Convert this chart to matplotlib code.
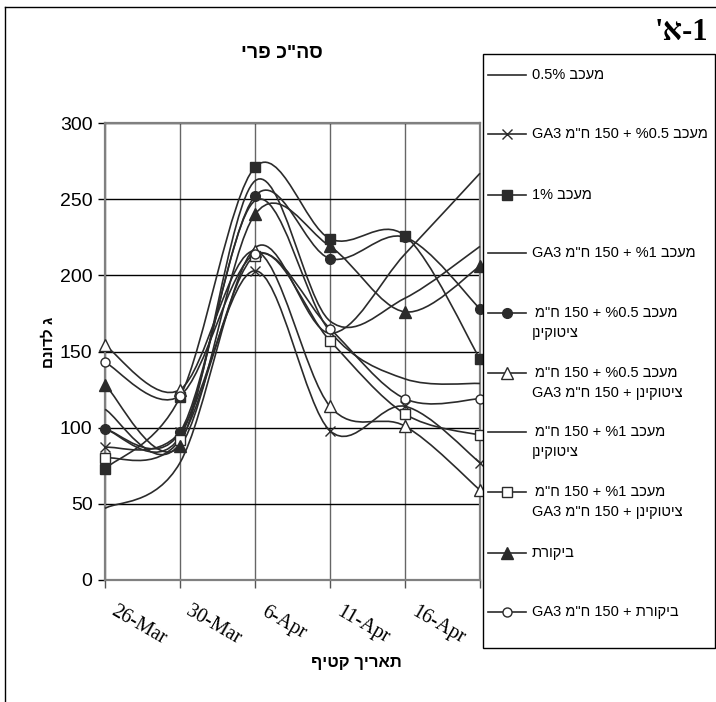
import numpy as np
import matplotlib
matplotlib.use('Agg')
import matplotlib.pyplot as plt
import matplotlib.transforms as mtransforms
from matplotlib.path import Path
from matplotlib.patches import PathPatch, Rectangle

# harvest dates (category axis)
dates = ['26-Mar', '30-Mar', '6-Apr', '11-Apr', '16-Apr', '21-Apr']

# yield per treatment
inh05 = [112, 90, 262, 170, 185, 219]
inh05_ga3 = [87, 97, 203, 98, 114, 77]
inh1 = [73, 120, 271, 224, 226, 145]
inh1_ga3 = [47, 77, 218, 162, 214, 267]
inh05_cyt = [99, 97, 252, 211, 225, 178]
inh05_cyt_ga3 = [154, 125, 216, 114, 101, 59]
inh1_cyt = [99, 94, 249, 163, 132, 129]
inh1_cyt_ga3 = [80, 92, 213, 157, 109, 95]
control = [128, 88, 240, 219, 176, 206]
control_ga3 = [143, 121, 214, 165, 119, 119]

yticks = [0, 50, 100, 150, 200, 250, 300]

# legend labels, logical order (second line for wrapped entries)
labels = [
    ('מעכב 0.5%', None),
    ('מעכב %0.5 + 150 ח"מ GA3', None),
    ('מעכב 1%', None),
    ('מעכב %1 + 150 ח"מ GA3', None),
    ('מעכב %0.5 + 150 ח"מ', 'ציטוקינן'),
    ('מעכב %0.5 + 150 ח"מ', 'ציטוקינן + 150 ח"מ GA3'),
    ('מעכב %1 + 150 ח"מ', 'ציטוקינן'),
    ('מעכב %1 + 150 ח"מ', 'ציטוקינן + 150 ח"מ GA3'),
    ('ביקורת', None),
    ('ביקורת + 150 ח"מ GA3', None),
]

series = [inh05, inh05_ga3, inh1, inh1_ga3, inh05_cyt,
          inh05_cyt_ga3, inh1_cyt, inh1_cyt_ga3, control, control_ga3]

dark = '#2b2b2b'
# (marker, size, facecolor)
styles = [
    (None, 0, None),
    ('x', 7, dark),
    ('s', 7, dark),
    (None, 0, None),
    ('o', 7, dark),
    ('^', 8, 'white'),
    (None, 0, None),
    ('s', 6.5, 'white'),
    ('^', 8, dark),
    ('o', 6.5, 'white'),
]


def is_heb(s):
    return any('\u0590' <= c <= '\u05ff' for c in s)


def rtl(s):
    # matplotlib has no bidi: lay the words out right-to-left by hand
    toks = s.split(' ')[::-1]
    return ' '.join(t[::-1] if is_heb(t) else t for t in toks)


def smooth(x, y):
    # Excel-like smoothed line: Catmull-Rom through the points as cubic Beziers
    pts = np.column_stack([x, y]).astype(float)
    n = len(pts)
    verts = [pts[0]]
    codes = [Path.MOVETO]
    for i in range(n - 1):
        p0 = pts[max(i - 1, 0)]
        p1 = pts[i]
        p2 = pts[i + 1]
        p3 = pts[min(i + 2, n - 1)]
        verts += [p1 + (p2 - p0) / 6, p2 - (p3 - p1) / 6, p2]
        codes += [Path.CURVE4] * 3
    return Path(verts, codes)


fig = plt.figure(figsize=(7.16, 7.02), dpi=100)
W, H = 716, 702
ax = fig.add_axes([105 / W, 1 - 580 / H, 375 / W, 457 / H])

x = np.arange(len(dates))
for vals, (mk, ms, fc) in zip(series, styles):
    ax.add_patch(PathPatch(smooth(x, vals), fill=False, ec=dark, lw=1.2,
                           clip_on=False, zorder=3))
    if mk:
        ax.plot(x, vals, ls='none', marker=mk, ms=ms, mfc=fc, mec=dark,
                mew=1.0, clip_on=False, zorder=4)

ax.set_xlim(0, len(dates) - 1)
ax.set_ylim(0, 300)
ax.set_yticks(yticks)
ax.set_xticks(x)
ax.set_xticklabels([])
# date labels: slanted, starting a little right of each tick
off = mtransforms.ScaledTranslation(9 / 72, -16 / 72, fig.dpi_scale_trans)
for i, d in enumerate(dates):
    ax.text(i, 0, d, transform=ax.get_xaxis_transform() + off,
            rotation=-30, rotation_mode='anchor', ha='left', va='top',
            family='Liberation Serif', fontsize=14.5, clip_on=False)
ax.tick_params(axis='y', direction='out', length=5, width=1, pad=4,
               labelsize=14)
ax.tick_params(axis='x', direction='out', length=6, width=1,
               colors='#555555')
for lab in ax.get_yticklabels():
    lab.set_family('Liberation Sans')
ax.grid(axis='y', color='black', lw=1)
ax.grid(axis='x', color='#666666', lw=1)
ax.set_axisbelow(True)
for sp in ax.spines.values():
    sp.set_color('#808080')
    sp.set_linewidth(1.6)

# overlay in pixel units for frame, titles and the legend
ov = fig.add_axes([0, 0, 1, 1], zorder=5)
ov.set_xlim(0, W)
ov.set_ylim(H, 0)
ov.axis('off')
ov.patch.set_alpha(0)

ov.plot([5, 5], [7, H], color='black', lw=1)
ov.plot([5, W], [7, 7], color='black', lw=1)

heb = ['Liberation Sans', 'DejaVu Sans']
ov.text(282, 54, rtl('סה"כ פרי'), ha='center', va='center', fontsize=14,
        fontweight='bold', family=heb)
ov.text(708, 32, "'" + 'א' + '-1', ha='right', va='center', fontsize=22,
        fontweight='bold', family=['Liberation Serif', 'DejaVu Sans'])
ov.text(356, 662, rtl('תאריך קטיף'), ha='center', va='center', fontsize=12,
        fontweight='bold', family=heb)
ov.text(48, 342, rtl('ג לדונם'), ha='center', va='center', rotation=90,
        fontsize=11, fontweight='bold', family=heb)

# legend box
ov.add_patch(Rectangle((483, 54), 232, 594, fc='white', ec='black', lw=1))
rows = [75, 134, 195, 253, 313, 373, 432, 492, 553, 612]
for (l1, l2), y, (mk, ms, fc) in zip(labels, rows, styles):
    ov.plot([488, 526], [y, y], color=dark, lw=1.2)
    if mk:
        ov.plot([507], [y], marker=mk, ms=ms, mfc=fc, mec=dark, mew=1.0,
                color=dark)
    ov.text(532 if l2 is None else 535, y, rtl(l1), ha='left', va='center',
            fontsize=10.5, family=heb)
    if l2:
        ov.text(532, y + 20, rtl(l2), ha='left', va='center', fontsize=10.5,
                family=heb)

fig.savefig('out.png', dpi=100)
